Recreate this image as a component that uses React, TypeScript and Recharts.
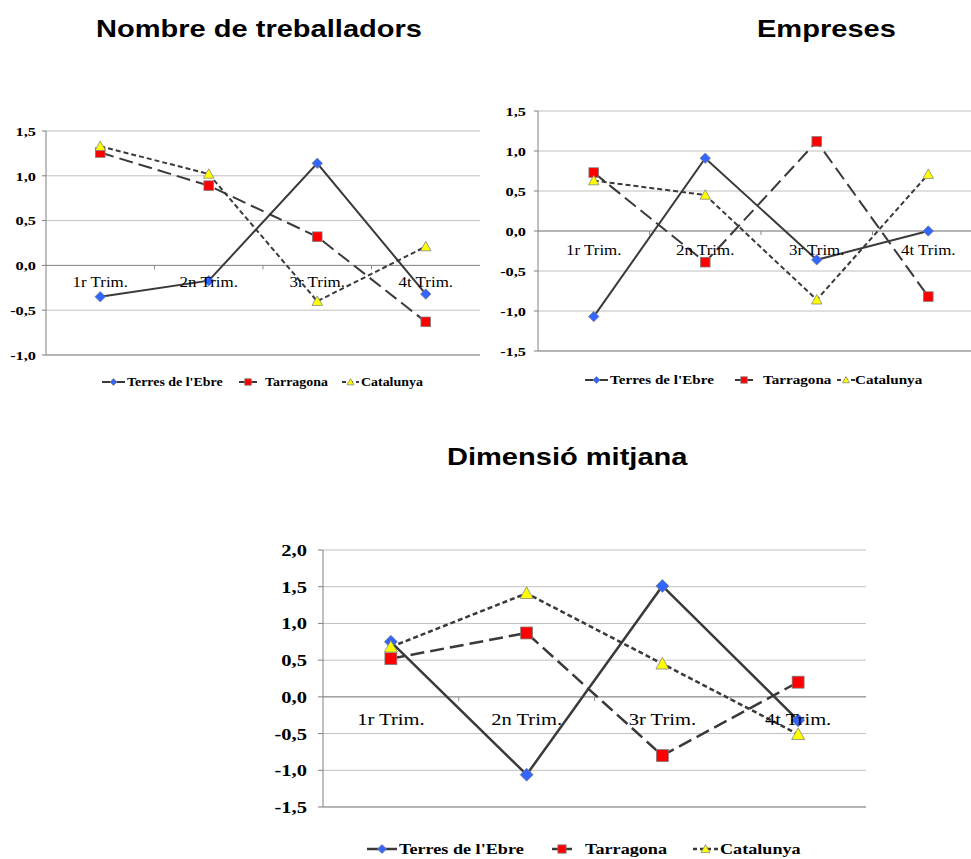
import React from "react";
import { LineChart, Line, XAxis, YAxis, CartesianGrid, ReferenceLine, Legend } from "recharts";

const quarters = ["1r Trim.", "2n Trim.", "3r Trim.", "4t Trim."];

// Nombre de treballadors
const treballadorsEbre = [-0.35, -0.17, 1.14, -0.32];
const treballadorsTarragona = [1.26, 0.89, 0.32, -0.63];
const treballadorsCatalunya = [1.33, 1.02, -0.4, 0.21];

// Empreses
const empresesEbre = [-1.07, 0.91, -0.36, 0.0];
const empresesTarragona = [0.73, -0.39, 1.12, -0.82];
const empresesCatalunya = [0.63, 0.45, -0.86, 0.71];

// Dimensió mitjana
const dimensioEbre = [0.75, -1.06, 1.51, -0.32];
const dimensioTarragona = [0.52, 0.87, -0.8, 0.2];
const dimensioCatalunya = [0.68, 1.41, 0.45, -0.51];

const ticksTreballadors = [-1, -0.5, 0, 0.5, 1, 1.5];
const ticksEmpreses = [-1.5, -1, -0.5, 0, 0.5, 1, 1.5];
const ticksDimensio = [-1.5, -1, -0.5, 0, 0.5, 1, 1.5, 2];

const seriesNames = ["Terres de l'Ebre", "Tarragona", "Catalunya"];

const SX = 1.21; // source picture is stretched horizontally
const SERIF = "'Liberation Serif', 'Times New Roman', serif";
const SANS = "'Liberation Sans', Arial, sans-serif";
const LINE = "#3a3a3a";

const series = [
  { key: "ebre", name: seriesNames[0], shape: "diamond", dash: undefined as string | undefined, legendDash: undefined as string | undefined },
  { key: "tarragona", name: seriesNames[1], shape: "square", dash: "14 6", legendDash: undefined },
  { key: "catalunya", name: seriesNames[2], shape: "triangle", dash: "5 3", legendDash: "4 3" },
];

const buildRows = (ebre: number[], tarragona: number[], catalunya: number[]) =>
  quarters.map((q, i) => ({ q, ebre: ebre[i], tarragona: tarragona[i], catalunya: catalunya[i] }));

const fmt = (v: number) => v.toFixed(1).replace(".", ",");

function Marker({ shape, cx, cy, size }: any) {
  if (cx == null || cy == null) return null;
  const h = size / 2;
  if (shape === "diamond") {
    return (
      <polygon
        points={`${cx},${cy - h} ${cx + h},${cy} ${cx},${cy + h} ${cx - h},${cy}`}
        fill="#3366ff"
        stroke="#7f7f7f"
        strokeWidth={0.75}
      />
    );
  }
  if (shape === "square") {
    const s = h * 0.92;
    return <rect x={cx - s} y={cy - s} width={2 * s} height={2 * s} fill="#ff0000" stroke="#7f7f7f" strokeWidth={0.75} />;
  }
  return (
    <polygon
      points={`${cx},${cy - h} ${cx + h},${cy + h * 0.8} ${cx - h},${cy + h * 0.8}`}
      fill="#ffff00"
      stroke="#7f7f7f"
      strokeWidth={0.75}
    />
  );
}

function YTick({ x, y, payload, fontSize }: any) {
  return (
    <text
      transform={`translate(${x},${y}) scale(${SX},1)`}
      textAnchor="end"
      dy="0.35em"
      fontSize={fontSize}
      fontWeight="bold"
      fontFamily={SERIF}
      fill="#000"
    >
      {fmt(payload.value)}
    </text>
  );
}

function XTick(props: any) {
  const { x, payload, zeroY, dy, band, fontSize } = props;
  const index = props.index ?? payload.index ?? 0;
  return (
    <g>
      {index > 0 && <line x1={x - band / 2} x2={x - band / 2} y1={zeroY} y2={zeroY + 4} stroke="#8c8c8c" />}
      <text
        transform={`translate(${x},${zeroY + dy}) scale(${SX},1)`}
        textAnchor="middle"
        fontSize={fontSize}
        fontFamily={SERIF}
        fill="#000"
      >
        {payload.value}
      </text>
    </g>
  );
}

function LegendRow({ items, fontSize, size, lineW }: any) {
  return (
    <div style={{ position: "relative", height: 20, width: "100%" }}>
      {series.map((s, i) => {
        const it = items[i];
        return (
          <React.Fragment key={s.key}>
            <svg style={{ position: "absolute", left: it.icon, top: 0 }} width={it.w} height={20}>
              <line x1={0} x2={it.w} y1={10} y2={10} stroke={LINE} strokeWidth={lineW} strokeDasharray={s.legendDash} />
              <Marker shape={s.shape} cx={it.w / 2} cy={10} size={size} />
            </svg>
            <span
              style={{
                position: "absolute",
                left: it.text,
                top: 0,
                lineHeight: "20px",
                fontSize,
                fontWeight: "bold",
                fontFamily: SERIF,
                whiteSpace: "nowrap",
                color: "#000",
                transform: `scaleX(${SX})`,
                transformOrigin: "left center",
              }}
            >
              {s.name}
            </span>
          </React.Fragment>
        );
      })}
    </div>
  );
}

function QuarterChart({ cfg, data }: any) {
  const plotH = cfg.height - cfg.marginTop - cfg.xAxisH;
  const [min, max] = cfg.domain;
  const zeroY = cfg.marginTop + (plotH * max) / (max - min);
  return (
    <div style={{ position: "absolute", left: cfg.left, top: cfg.top }}>
      <LineChart
        width={cfg.width}
        height={cfg.height}
        data={data}
        margin={{ top: cfg.marginTop, right: cfg.marginRight, left: 0, bottom: 0 }}
      >
        <CartesianGrid vertical={false} stroke="#c0c0c0" />
        <XAxis
          dataKey="q"
          height={cfg.xAxisH}
          interval={0}
          padding={{ left: cfg.band / 2, right: cfg.band / 2 }}
          axisLine={{ stroke: "#8c8c8c" }}
          tickLine={false}
          tickSize={0}
          tick={<XTick zeroY={zeroY} dy={cfg.catDy} band={cfg.band} fontSize={cfg.catFont} />}
        />
        <YAxis
          width={cfg.yAxisW}
          domain={cfg.domain}
          ticks={cfg.ticks}
          interval={0}
          axisLine={{ stroke: "#808080" }}
          tickLine={{ stroke: "#808080" }}
          tickSize={cfg.tickSize}
          tickMargin={cfg.tickMargin}
          tick={<YTick fontSize={cfg.tickFont} />}
        />
        <YAxis
          yAxisId="r"
          orientation="right"
          width={0}
          domain={cfg.domain}
          tick={false}
          tickLine={false}
          axisLine={{ stroke: "#a6a6a6" }}
        />
        <ReferenceLine y={0} stroke="#8c8c8c" />
        {series.map((s) => (
          <Line
            key={s.key}
            dataKey={s.key}
            name={s.name}
            stroke={LINE}
            strokeWidth={cfg.strokeW}
            strokeDasharray={s.dash}
            isAnimationActive={false}
            activeDot={false}
            dot={(p: any) => <Marker key={`${s.key}-${p.index}`} shape={s.shape} cx={p.cx} cy={p.cy} size={cfg.markerSize} />}
          />
        ))}
        <Legend
          layout="horizontal"
          verticalAlign="middle"
          align="center"
          wrapperStyle={{ left: 0, top: cfg.legendTop, width: cfg.width, height: 20 }}
          content={() => (
            <LegendRow items={cfg.legendItems} fontSize={cfg.legendFont} size={cfg.legendMarker} lineW={cfg.strokeW} />
          )}
        />
      </LineChart>
    </div>
  );
}

const cfgTreballadors = {
  left: 0, top: 110, width: 490, height: 290, marginTop: 21, marginRight: 10,
  yAxisW: 46, xAxisH: 45, domain: [-1, 1.5], ticks: ticksTreballadors, band: 108.5,
  tickSize: 4, tickMargin: 6, tickFont: 13.5, catFont: 14, catDy: 22,
  markerSize: 10.5, strokeW: 2, legendTop: 262, legendFont: 11.5, legendMarker: 7,
  legendItems: [{ icon: 102, w: 23, text: 127 }, { icon: 239, w: 18, text: 265 }, { icon: 342, w: 17, text: 361 }],
};

const cfgEmpreses = {
  left: 490, top: 90, width: 499, height: 310, marginTop: 21, marginRight: 5,
  yAxisW: 48, xAxisH: 49, domain: [-1.5, 1.5], ticks: ticksEmpreses, band: 111.5,
  tickSize: 4, tickMargin: 8, tickFont: 13.5, catFont: 14, catDy: 24,
  markerSize: 10.5, strokeW: 2, legendTop: 280, legendFont: 12.5, legendMarker: 7,
  legendItems: [{ icon: 95, w: 23, text: 120 }, { icon: 245, w: 18, text: 273 }, { icon: 347, w: 18, text: 365 }],
};

const cfgDimensio = {
  left: 270, top: 530, width: 601, height: 333, marginTop: 20, marginRight: 5,
  yAxisW: 53, xAxisH: 56, domain: [-1.5, 2], ticks: ticksDimensio, band: 135.75,
  tickSize: 5, tickMargin: 11, tickFont: 17, catFont: 17, catDy: 28,
  markerSize: 13, strokeW: 2.5, legendTop: 309, legendFont: 15, legendMarker: 9,
  legendItems: [{ icon: 97, w: 30, text: 129 }, { icon: 282, w: 20, text: 315 }, { icon: 423, w: 25, text: 450 }],
};

const titleStyle = (left: number, top: number): React.CSSProperties => ({
  position: "absolute",
  left,
  top,
  fontFamily: SANS,
  fontWeight: "bold",
  fontSize: 24,
  lineHeight: "24px",
  whiteSpace: "nowrap",
  color: "#000",
  transform: `scaleX(${SX})`,
  transformOrigin: "left top",
});

export default function App() {
  return (
    <div style={{ position: "absolute", left: 0, top: 0, width: 971, height: 859, overflow: "hidden", background: "#fff" }}>
      <div style={titleStyle(96, 17)}>Nombre de treballadors</div>
      <div style={titleStyle(757, 17)}>Empreses</div>
      <div style={titleStyle(447, 445)}>Dimensió mitjana</div>
      <QuarterChart cfg={cfgTreballadors} data={buildRows(treballadorsEbre, treballadorsTarragona, treballadorsCatalunya)} />
      <QuarterChart cfg={cfgEmpreses} data={buildRows(empresesEbre, empresesTarragona, empresesCatalunya)} />
      <QuarterChart cfg={cfgDimensio} data={buildRows(dimensioEbre, dimensioTarragona, dimensioCatalunya)} />
    </div>
  );
}
